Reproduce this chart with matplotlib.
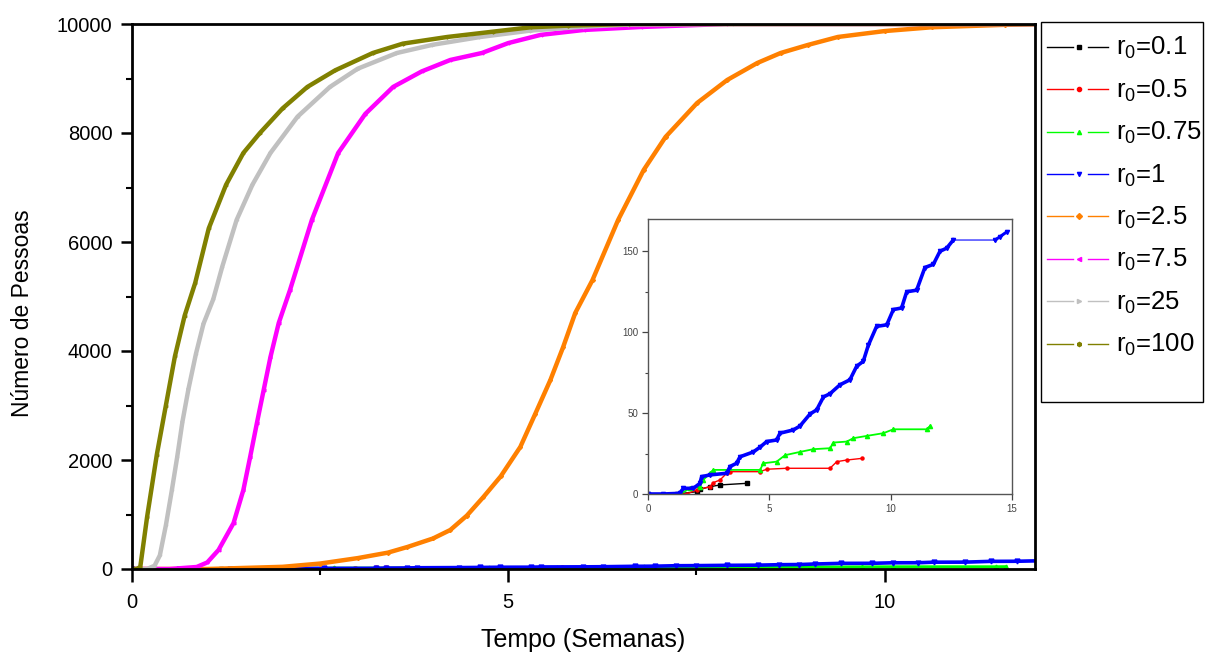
import numpy as np
import matplotlib
matplotlib.use("Agg")
import matplotlib.pyplot as plt
from matplotlib.lines import Line2D
from matplotlib.patches import Rectangle
from matplotlib.ticker import MultipleLocator

plt.rcParams['font.family'] = ['Liberation Sans', 'DejaVu Sans']
plt.rcParams['mathtext.fontset'] = 'custom'
plt.rcParams['mathtext.rm'] = 'Liberation Sans'
plt.rcParams['mathtext.it'] = 'Liberation Sans:italic'

# ---------------- data (time in weeks, number of people) ----------------
labels = ['0.1', '0.5', '0.75', '1', '2.5', '7.5', '25', '100']
colors = ['#000000', '#FF0000', '#00FF00', '#0000FF', '#FF8000', '#FF00FF', '#C0C0C0', '#808000']
markers = ['s', 'o', '^', 'v', 'D', '<', '>', 'h']

t_01 = [0, 1.18, 2.0, 2.14, 2.55, 2.97, 4.07]
n_01 = [0, 0, 1.4, 2.9, 4.5, 5.6, 6.6]

t_05 = [0, 1.59, 2.0, 2.55, 2.69, 2.97, 3.24, 3.38, 4.62, 4.89, 5.71, 7.5, 7.78, 8.19, 8.8]
n_05 = [0, 0, 2.5, 4.5, 7, 8.7, 12.8, 13.8, 13.8, 15.3, 15.9, 15.9, 20, 21, 22]

t_075 = [0, 1.32, 1.73, 2.14, 2.28, 2.55, 2.69, 4.62, 4.75, 5.3, 5.65, 6.26, 6.81, 7.5,
         7.64, 8.19, 8.46, 9.01, 9.7, 10.11, 11.48, 11.62]
n_075 = [0, 0, 3.5, 4.5, 8.7, 12.8, 14.9, 14.9, 19, 20, 24, 26, 27.7, 28.3,
         31.8, 32.4, 34.5, 35.9, 37.6, 40, 40, 42]

t_1 = [0, 0.63, 1.3, 1.46, 1.87, 2.14, 2.21, 2.55, 3.24, 3.38, 3.65, 3.79, 4.34, 4.62,
       4.89, 5.3, 5.44, 5.99, 6.26, 6.68, 6.95, 7.23, 7.5, 7.91, 8.32, 8.6, 8.87, 9.08,
       9.42, 9.84, 10.11, 10.45, 10.66, 11.07, 11.41, 11.76, 12.03, 12.31, 12.58, 14.3,
       14.5, 14.78]
n_1 = [0, 0, 0.4, 3.5, 3.5, 6.6, 10.7, 11.8, 12.8, 17, 19, 23, 26, 29,
       32.4, 33.4, 37.6, 39.6, 42, 49.5, 52, 60, 62, 67.5, 70.6, 79, 82, 92,
       103.6, 104.6, 114, 115, 125, 126, 140, 142, 150, 152, 157, 157,
       159, 162]

t_25 = [0, 1.0, 2.0, 2.5, 3.0, 3.4, 3.66, 4.0, 4.23, 4.45, 4.67, 4.9, 5.16, 5.36, 5.56,
        5.73, 5.89, 6.12, 6.46, 6.8, 7.09, 7.51, 7.91, 8.31, 8.62, 8.98, 9.38, 10.0,
        10.63, 11.6, 12.0]
n_25 = [0, 0, 40, 100, 200, 300, 404, 560, 716, 980, 1321, 1700, 2239, 2850, 3468,
        4074, 4697, 5303, 6404, 7322, 7927, 8551, 8973, 9285, 9468, 9615, 9762, 9870,
        9940, 9985, 9995]

t_75 = [0, 0.5, 0.86, 1.0, 1.15, 1.35, 1.48, 1.57, 1.66, 1.75, 1.84, 1.95, 2.1, 2.39,
        2.74, 3.1, 3.47, 3.85, 4.23, 4.65, 5.0, 5.43, 6.0, 6.76, 7.9, 12.0]
n_75 = [0, 0, 37, 120, 349, 844, 1450, 2055, 2679, 3285, 3890, 4514, 5120, 6404,
        7634, 8350, 8845, 9130, 9340, 9468, 9650, 9800, 9890, 9945, 10000, 10000]

t_250 = [0, 0.2, 0.3, 0.37, 0.45, 0.53, 0.6, 0.67, 0.75, 0.85, 0.95, 1.08, 1.2, 1.39,
         1.6, 1.84, 2.2, 2.63, 3.0, 3.52, 4.0, 4.63, 5.3, 6.0, 6.6, 8.0, 12.0]
n_250 = [0, 0, 60, 250, 800, 1450, 2050, 2700, 3300, 3950, 4500, 4950, 5550, 6404,
         7050, 7634, 8300, 8845, 9180, 9468, 9620, 9762, 9880, 9950, 9990, 10000, 10000]

t_100 = [0, 0.06, 0.11, 0.2, 0.33, 0.45, 0.57, 0.7, 0.84, 1.02, 1.25, 1.48, 1.7, 2.0,
         2.33, 2.7, 3.2, 3.6, 4.19, 4.8, 5.3, 5.8, 6.6, 12.0]
n_100 = [0, 0, 37, 950, 2100, 3000, 3900, 4650, 5250, 6250, 7050, 7634, 8000, 8450,
         8845, 9150, 9468, 9640, 9762, 9860, 9940, 9970, 10000, 10000]

series_t = [t_01, t_05, t_075, t_1, t_25, t_75, t_250, t_100]
series_n = [n_01, n_05, n_075, n_1, n_25, n_75, n_250, n_100]

# ---------------- figure ----------------
W, H = 1205, 652
fig = plt.figure(figsize=(W / 100, H / 100), dpi=100)
fig.patch.set_facecolor('white')

ax = fig.add_axes([132 / W, 1 - 569 / H, 903 / W, 545 / H])
main_lw = [2.0, 2.0, 2.2, 2.6, 3.2, 3.2, 3.2, 3.2]
main_ms = [3.5, 3.5, 3.5, 3.5, 2.0, 2.0, 2.0, 2.0]
for t, n, c, m, lw, ms in zip(series_t, series_n, colors, markers, main_lw, main_ms):
    ax.plot(t, n, color=c, lw=lw, marker=m, ms=ms, mec=c, mfc=c,
            solid_joinstyle='round', solid_capstyle='round')

ax.set_xlim(0, 12)
ax.set_ylim(0, 10000)
ax.xaxis.set_major_locator(MultipleLocator(5))
ax.xaxis.set_minor_locator(MultipleLocator(2.5))
ax.yaxis.set_major_locator(MultipleLocator(2000))
ax.yaxis.set_minor_locator(MultipleLocator(1000))
for s in ax.spines.values():
    s.set_linewidth(2.0)
ax.tick_params(which='major', direction='out', length=8, width=1.8, labelsize=14.5, pad=6)
ax.tick_params(which='minor', direction='out', length=4, width=1.5)
ax.tick_params(axis='x', which='major', length=9, pad=8)
ax.set_xlabel('Tempo (Semanas)', fontsize=18)
ax.xaxis.set_label_coords(0.5, -0.108)
ax.set_ylabel('Número de Pessoas', fontsize=16.5)
ax.yaxis.set_label_coords(-0.108, 0.47)

# ---------------- inset ----------------
ins = fig.add_axes([648 / W, 1 - 494 / H, 364 / W, 275 / H])
ins.set_facecolor('white')
t1 = np.array(t_1)
n1 = np.array(n_1)
ins.plot(t_01, n_01, color=colors[0], lw=1.0, marker='s', ms=2.2)
ins.plot(t_05, n_05, color=colors[1], lw=1.0, marker='o', ms=2.2)
ins.plot(t_075, n_075, color=colors[2], lw=1.3, marker='^', ms=3)
ins.plot(t1, n1, color=colors[3], lw=1.0, alpha=0.8)
ins.plot(t1[t1 <= 12.58], n1[t1 <= 12.58], color=colors[3], lw=2.6, marker='v', ms=3)
ins.plot(t1[t1 >= 14.3], n1[t1 >= 14.3], color=colors[3], lw=2.2, marker='v', ms=3)
ins.set_xlim(0, 15)
ins.set_ylim(0, 170)
ins.xaxis.set_major_locator(MultipleLocator(5))
ins.yaxis.set_major_locator(MultipleLocator(50))
ins.yaxis.set_minor_locator(MultipleLocator(25))
for s in ins.spines.values():
    s.set_linewidth(1.0)
    s.set_color('#555555')
ins.tick_params(which='major', direction='out', length=4, width=0.9, labelsize=7,
                colors='#444444', pad=3)
ins.tick_params(which='minor', direction='out', length=2.5, width=0.8, colors='#444444')

# ---------------- legend (drawn in pixel space overlay) ----------------
lg = fig.add_axes([0, 0, 1, 1], zorder=10)
lg.set_xlim(0, W)
lg.set_ylim(H, 0)
lg.axis('off')
lg.patch.set_alpha(0)
lg.add_patch(Rectangle((1041, 22), 162, 380, fill=False, lw=1.0, ec='#000000'))
for i, (lab, c, m) in enumerate(zip(labels, colors, markers)):
    yy = 46.7 + 42.4 * i
    lg.add_line(Line2D([1047, 1073], [yy, yy], color=c, lw=1.0))
    lg.add_line(Line2D([1088, 1108], [yy, yy], color=c, lw=1.0))
    lg.add_line(Line2D([1079], [yy], color=c, marker=m, ms=3, lw=0))
    lg.text(1116, yy + 8.5, r'r$_{\mathrm{0}}$=' + lab, fontsize=18.5, va='baseline',
            ha='left', color='black')

fig.savefig('out.png', dpi=100)
